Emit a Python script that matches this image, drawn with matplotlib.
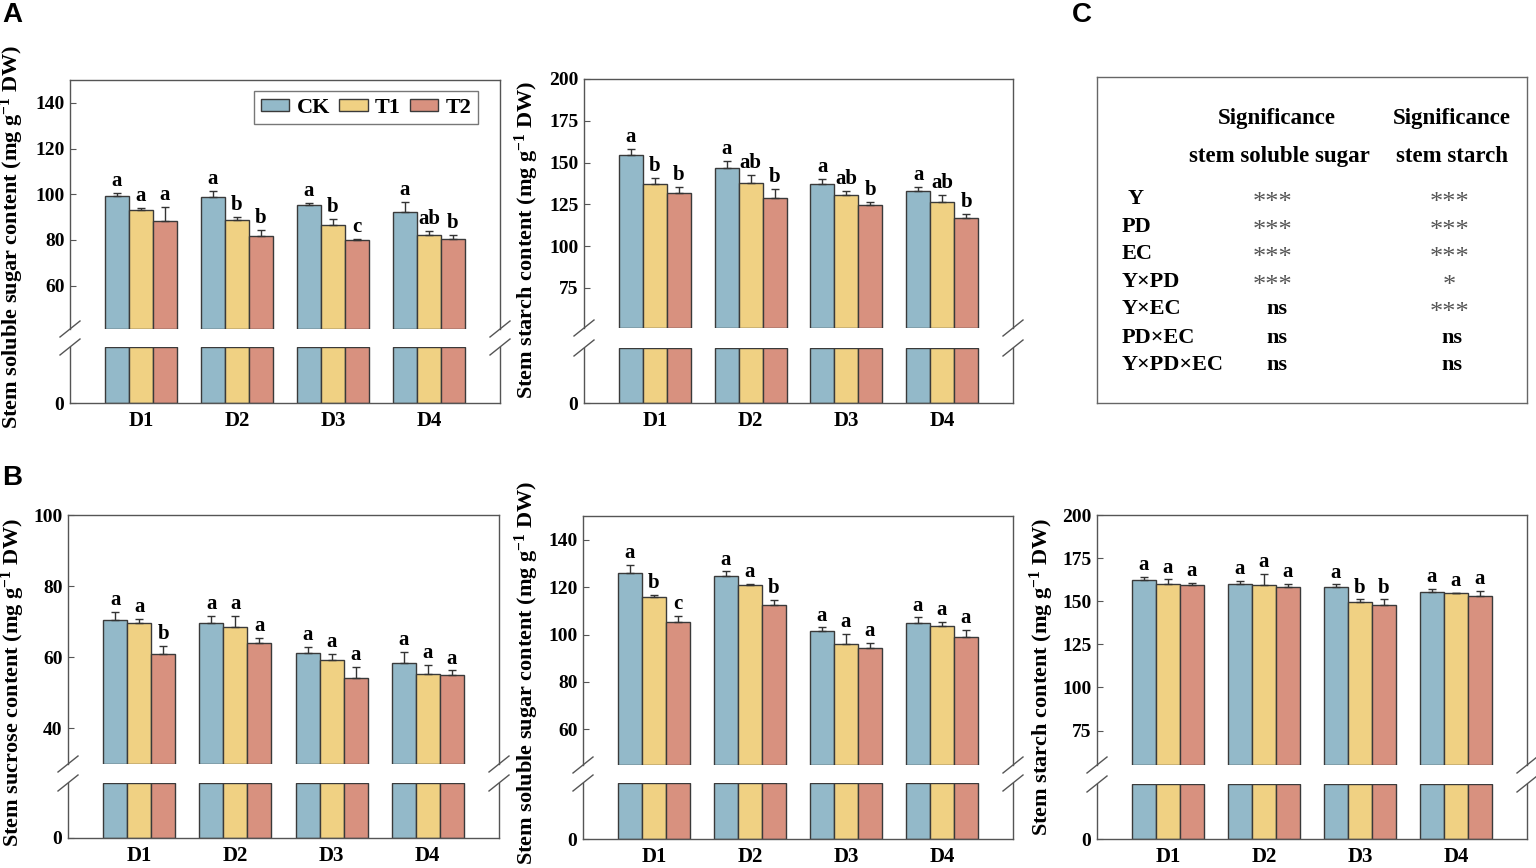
import matplotlib
matplotlib.use('Agg')
import matplotlib.pyplot as plt
import numpy as np
from matplotlib.lines import Line2D

plt.rcParams['font.family'] = ['Liberation Serif', 'DejaVu Serif']
plt.rcParams['font.weight'] = 'bold'
plt.rcParams['mathtext.fontset'] = 'custom'
plt.rcParams['mathtext.rm'] = 'Liberation Serif:bold'
plt.rcParams['mathtext.bf'] = 'Liberation Serif:bold'
plt.rcParams['mathtext.default'] = 'rm'

groups = ['D1', 'D2', 'D3', 'D4']
treatments = ['CK', 'T1', 'T2']

# A: stem soluble sugar (rows = CK, T1, T2)
a_sugar_mean = [[99.4, 98.6, 95.1, 92.2], [93.3, 88.7, 86.5, 82.2], [88.3, 81.7, 80.0, 80.6]]
a_sugar_err = [[1.3, 2.8, 0.9, 4.6], [0.6, 1.2, 2.6, 1.9], [6.2, 2.8, 0.6, 1.5]]
a_sugar_sig = [['a', 'a', 'a', 'a'], ['a', 'b', 'b', 'ab'], ['a', 'b', 'c', 'b']]

# A: stem starch
a_starch_mean = [[154.6, 147.0, 137.4, 133.0], [137.2, 137.6, 130.6, 126.4], [131.8, 128.8, 124.4, 117.0]]
a_starch_err = [[3.4, 4.0, 3.0, 2.6], [3.8, 5.0, 2.2, 4.2], [3.8, 5.2, 2.0, 2.4]]
a_starch_sig = [['a', 'a', 'a', 'a'], ['b', 'ab', 'ab', 'ab'], ['b', 'b', 'b', 'b']]

# B: stem sucrose
b_sucrose_mean = [[70.4, 69.6, 61.3, 58.4], [69.5, 68.5, 59.1, 55.3], [61.0, 63.9, 54.1, 54.9]]
b_sucrose_err = [[2.3, 2.1, 1.7, 3.2], [1.4, 3.2, 1.7, 2.6], [2.2, 1.4, 3.3, 1.4]]
b_sucrose_sig = [['a', 'a', 'a', 'a'], ['a', 'a', 'a', 'a'], ['b', 'a', 'a', 'a']]

# B: stem soluble sugar
b_sugar_mean = [[126.1, 124.8, 101.5, 104.8], [115.8, 120.8, 96.1, 103.7], [105.1, 112.4, 94.2, 98.9]]
b_sugar_err = [[3.1, 1.8, 1.5, 2.4], [1.0, 0.5, 4.2, 1.8], [2.8, 2.2, 2.4, 3.2]]
b_sugar_sig = [['a', 'a', 'a', 'a'], ['b', 'a', 'a', 'a'], ['c', 'b', 'a', 'a']]

# B: stem starch
b_starch_mean = [[162.2, 159.7, 158.1, 155.6], [160.1, 159.5, 149.4, 154.5], [159.5, 158.5, 147.9, 153.3]]
b_starch_err = [[1.9, 2.3, 1.6, 1.6], [2.5, 6.4, 1.6, 0.3], [1.2, 1.6, 3.1, 2.5]]
b_starch_sig = [['a', 'a', 'a', 'a'], ['a', 'a', 'b', 'a'], ['a', 'a', 'b', 'a']]

# C: significance table
table_factors = ['Y', 'PD', 'EC', 'Y×PD', 'Y×EC', 'PD×EC', 'Y×PD×EC']
sig_sugar = ['***', '***', '***', '***', 'ns', 'ns', 'ns']
sig_starch = ['***', '***', '***', '*', '***', 'ns', 'ns']

colors = ['#93b9c9', '#f0d183', '#d8917f']
edge = '#3a3a3a'
spine_color = '#555555'
bar_w = 0.25
low_top = 10
W, H = 1536, 868


def frac(left, top, right, bottom):
    return [left / W, 1 - bottom / H, (right - left) / W, (bottom - top) / H]


def slash(fig, x, y):
    fig.add_artist(Line2D([(x - 10) / W, (x + 10) / W], [1 - (y + 8) / H, 1 - (y - 8) / H],
                          transform=fig.transFigure, color=spine_color, lw=1))


def draw_panel(fig, box, means, errs, sigs, ylim, yticks, ylabel, label_xy, legend=False):
    left, right, up_top, up_bot, lo_top, lo_bot = box
    ax_up = fig.add_axes(frac(left, up_top, right, up_bot))
    ax_lo = fig.add_axes(frac(left, lo_top, right, lo_bot))
    x = np.arange(len(groups))
    for i, name in enumerate(treatments):
        pos = x + (i - 1) * bar_w
        m = np.array(means[i])
        e = np.array(errs[i])
        ax_up.bar(pos, m - ylim[0], bottom=ylim[0], width=bar_w, color=colors[i],
                  edgecolor=edge, linewidth=1, label=name)
        ax_up.errorbar(pos, m, yerr=[np.zeros_like(e), e], fmt='none', ecolor='#333333',
                       elinewidth=1, capsize=3, capthick=1)
        for xp, top, s in zip(pos, m + e, sigs[i]):
            ax_up.annotate(s, (xp, top), xytext=(0, 5), textcoords='offset points',
                           ha='center', va='baseline', fontsize=15, fontweight='bold')
        ax_lo.bar(pos, np.minimum(m, low_top), width=bar_w, color=colors[i],
                  edgecolor=edge, linewidth=1)

    for ax in (ax_up, ax_lo):
        ax.set_xlim(-0.74, 3.74)
        for sp in ax.spines.values():
            sp.set_color(spine_color)
            sp.set_linewidth(1)
        ax.tick_params(axis='y', direction='in', length=4, pad=4, labelsize=14,
                       color=spine_color)

    ax_up.set_ylim(ylim)
    ax_up.set_yticks(yticks)
    ax_up.set_xticks([])
    ax_up.spines['bottom'].set_visible(False)

    ax_lo.set_ylim(0, low_top)
    ax_lo.set_yticks([0])
    ax_lo.spines['top'].set_visible(False)
    ax_lo.set_xticks(x)
    ax_lo.set_xticklabels(groups)
    ax_lo.tick_params(axis='x', length=0, pad=6, labelsize=15)

    for sx in (left, right):
        slash(fig, sx, up_bot)
        slash(fig, sx, lo_top)

    fig.text(label_xy[0] / W, 1 - label_xy[1] / H, ylabel, rotation=90,
             ha='center', va='center', fontsize=16, fontweight='bold')

    if legend:
        ax_up.legend(loc='upper right', bbox_to_anchor=(0.949, 0.956), ncol=3,
                     fontsize=16, frameon=True, fancybox=False, edgecolor=spine_color,
                     handlelength=1.3, handleheight=0.45, handletextpad=0.32,
                     columnspacing=0.4, borderpad=0.3, borderaxespad=0)


fig = plt.figure(figsize=(15.36, 8.68), dpi=100)

unit = ' (mg g$^{-1}$ DW)'
draw_panel(fig, (70, 500, 80, 329, 347, 403), a_sugar_mean, a_sugar_err, a_sugar_sig,
           (41, 150), [60, 80, 100, 120, 140], 'Stem soluble sugar content' + unit, (12, 237),
           legend=True)
draw_panel(fig, (584, 1013, 79, 328, 348, 403), a_starch_mean, a_starch_err, a_starch_sig,
           (51, 200), [75, 100, 125, 150, 175, 200], 'Stem starch content' + unit, (527, 240))
draw_panel(fig, (68, 499, 515, 764, 783, 838), b_sucrose_mean, b_sucrose_err, b_sucrose_sig,
           (30, 100), [40, 60, 80, 100], 'Stem sucrose content' + unit, (13, 682))
draw_panel(fig, (583, 1013, 516, 765, 783, 839), b_sugar_mean, b_sugar_err, b_sugar_sig,
           (45, 150), [60, 80, 100, 120, 140], 'Stem soluble sugar content' + unit, (527, 673))
draw_panel(fig, (1097, 1527, 515, 765, 784, 839), b_starch_mean, b_starch_err, b_starch_sig,
           (55, 200), [75, 100, 125, 150, 175, 200], 'Stem starch content' + unit, (1042, 677))

# table C
tax = fig.add_axes(frac(1097, 77, 1527, 403))
tax.set_xticks([])
tax.set_yticks([])
for sp in tax.spines.values():
    sp.set_color('#666666')
    sp.set_linewidth(1)
tax.text(0.419, 0.874, 'Significance', ha='center', va='center', fontsize=16.5)
tax.text(0.826, 0.874, 'Significance', ha='center', va='center', fontsize=16.5)
tax.text(0.424, 0.755, 'stem soluble sugar', ha='center', va='center', fontsize=16.5)
tax.text(0.826, 0.755, 'stem starch', ha='center', va='center', fontsize=16.5)
row_y = [0.625, 0.540, 0.458, 0.372, 0.287, 0.200, 0.117]
for k, (fac, s1, s2) in enumerate(zip(table_factors, sig_sugar, sig_starch)):
    fx = 0.07 if fac == 'Y' else 0.058
    tax.text(fx, row_y[k], fac, ha='left', va='center', fontsize=16)
    for s, cx_star, cx_ns in ((s1, 0.408, 0.419), (s2, 0.819, 0.825)):
        if s == 'ns':
            tax.text(cx_ns, row_y[k], s, ha='center', va='center', fontsize=16)
        else:
            tax.text(cx_star, row_y[k] - 0.012, s, ha='center', va='center', fontsize=19,
                     fontweight='normal', color='#555555')

for letter, lx, ly in (('A', 2, 15), ('B', 2, 478), ('C', 1072, 15)):
    fig.text(lx / W, 1 - ly / H, letter, ha='left', va='center', fontsize=20,
             fontweight='bold', family='Liberation Sans')

fig.savefig('out.png', dpi=100)
